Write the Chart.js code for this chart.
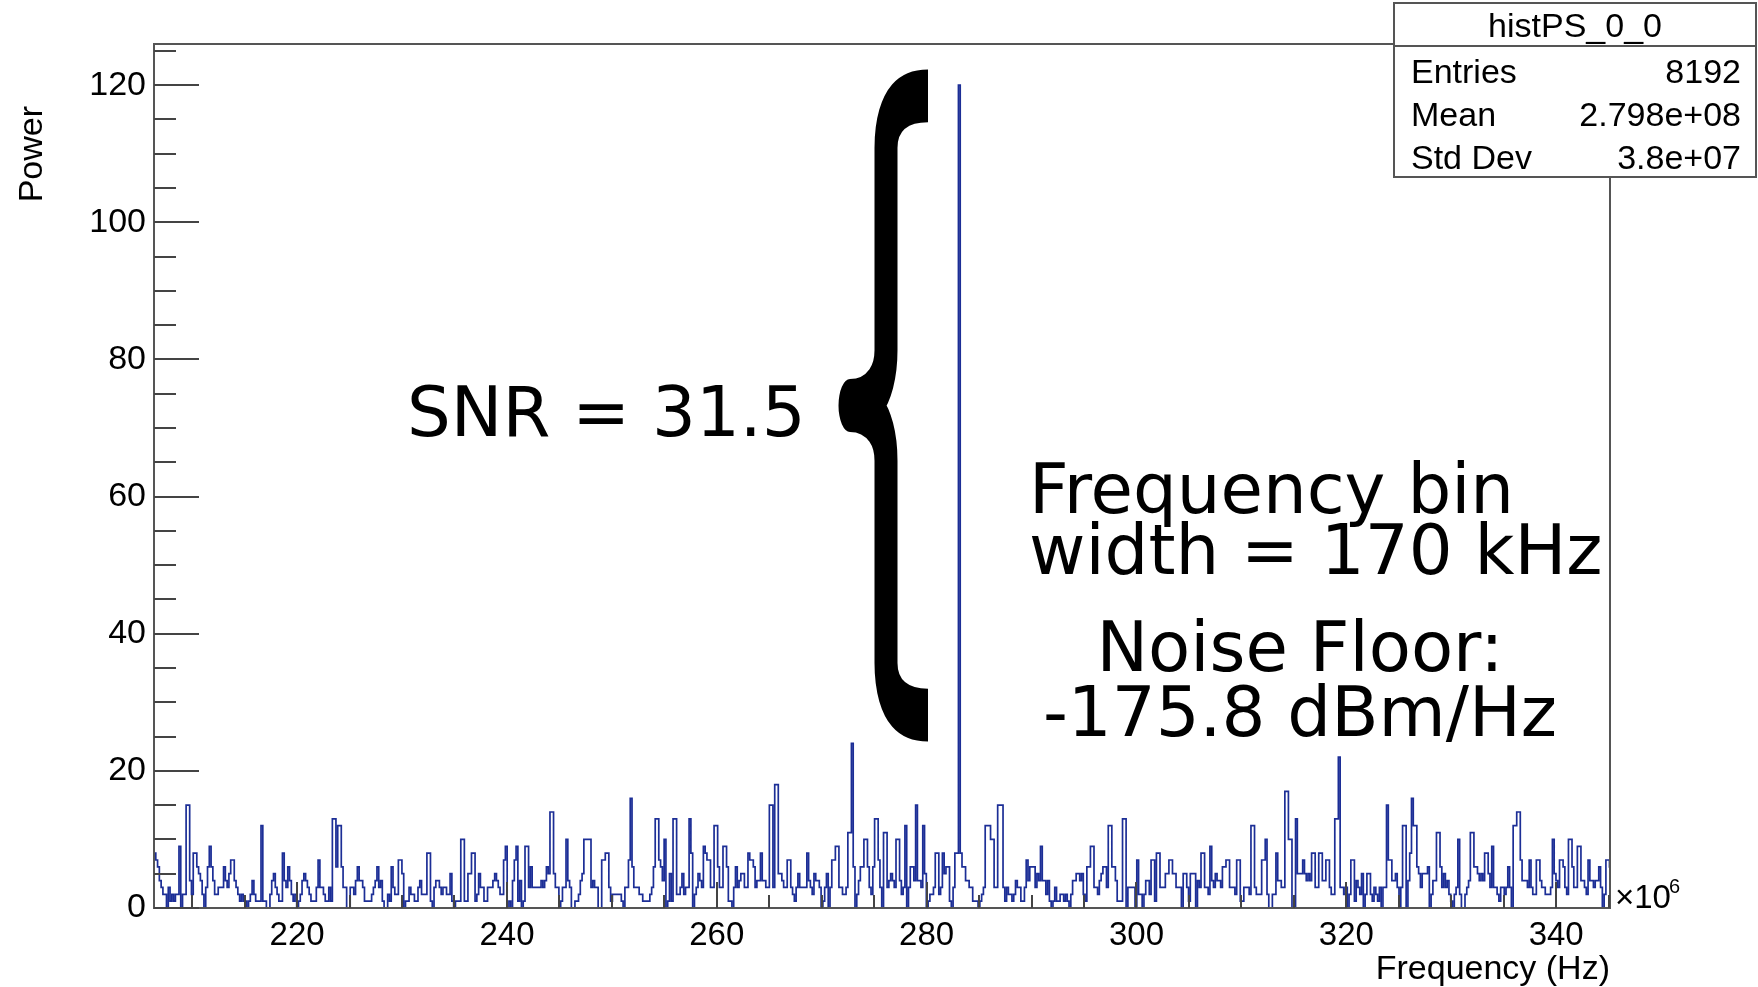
<!DOCTYPE html>
<html>
<head>
<meta charset="utf-8">
<title>histPS_0_0</title>
<script src="https://cdn.jsdelivr.net/npm/chart.js@4/dist/chart.umd.min.js"></script>
<style>
  html, body { margin: 0; padding: 0; background: #fff; }
  #c { display: block; }
</style>
</head>
<body>
<canvas id="c" width="1758" height="987"></canvas>
<script>
// Histogram binning (MHz): 170 kHz bins
const binStartMHz = 206.36;
const binWidthMHz = 0.17;

// Power per bin, left to right
const powerA = [ // ~206 - 229 MHz
  8,7,6,4,3,2,2,0,3,1, 2,1,2,2,9,0,2,2,15,15, 4,2,8,8,6,5,4,2,0,3,
  6,9,6,4,2,2,3,3,3,6, 4,3,5,7,7,4,3,2,1,2, 1,1,0,1,2,4,2,1,1,1,
  12,1,1,0,0,2,4,5,3,2, 1,1,8,4,3,6,4,2,1,2, 0,1,2,4,5,4,3,2,1,1,
  1,3,7,3,3,2,1,1,3,1, 13,13,6,12,12,6,3,3,0,0, 3,3,2,4,6,4,4,3,1,1,
  1,1,2,3,4,6,3,4,1,0, 0,2,1,6,3
];
const powerB = [ // ~229 - 252 MHz
  2,2,7,7,5,0,1,1,3,2, 2,1,1,3,4,2,2,2,8,8, 1,0,3,4,4,3,2,3,3,2,
  2,5,1,0,1,1,1,10,10,1, 1,5,5,8,8,1,2,5,3,3, 1,1,3,3,3,4,5,4,3,2,
  2,7,9,0,1,0,4,7,9,1, 4,0,1,9,9,3,6,3,3,3, 3,3,4,3,4,6,5,14,14,5,
  3,3,0,1,3,3,10,4,3,0, 0,1,1,2,4,5,10,10,10,10, 3,4,3,3,0,0,7,7,8,8,
  3,1,2,2,2,2,2,1,0,3, 3,7,16,6
];
const powerC = [ // ~252 - 275 MHz
  3,3,3,2,2,1,1,1,1,2, 3,6,13,13,7,6,4,10,0,1, 5,1,13,13,2,2,3,5,2,3,
  3,13,8,0,2,3,5,4,3,9, 8,7,7,3,3,12,12,6,3,3, 9,9,6,1,1,0,3,6,3,4,
  5,5,3,3,8,7,7,6,3,4, 4,8,4,4,3,3,15,15,3,18, 18,5,5,4,3,3,7,7,3,2,
  1,3,5,3,3,3,3,8,4,3, 2,5,4,4,3,0,1,3,5,0, 3,7,7,9,9,3,3,2,2,3,
  11,11,24,6,0,2,4,6,6,10, 10,6,3,2
];
const powerD = [ // ~275 - 298 MHz, carrier at ~283 MHz
  6,13,13,7,3,0,11,11,3,4, 5,4,3,10,10,4,2,3,12,0, 3,6,6,4,15,4,4,3,12,5,
  0,1,2,2,3,8,8,2,3,8, 5,6,6,1,0,3,8,8,120,8, 6,6,4,4,3,3,1,1,1,0,
  1,2,3,12,12,12,10,10,3,3, 15,15,15,3,1,3,2,2,1,2, 4,3,3,1,1,3,7,4,6,6,
  6,3,5,4,9,4,4,2,4,1, 0,1,3,1,1,2,2,1,2,1, 0,2,4,4,5,5,4,5,2,1,
  6,6,9,9,3,3,2,4,5,6, 6,3,12,12,6
];
const powerE = [ // ~298 - 321 MHz
  6,4,1,1,1,13,13,0,3,3, 3,3,0,7,2,2,0,2,4,4, 2,7,7,1,8,8,3,3,3,5,
  5,7,7,5,5,3,3,3,0,5, 5,3,1,5,5,5,0,4,3,8, 8,3,3,2,9,4,3,5,4,4,
  3,6,6,7,7,3,3,3,2,7, 7,1,1,3,3,3,2,12,12,3, 2,2,2,7,7,10,2,0,0,2,
  2,8,4,4,3,3,17,17,10,10, 0,0,13,5,5,5,7,5,4,5, 4,8,8,3,3,8,8,4,4,7,
  7,3,2,2,13,13,22,3,3,2, 3,0,2,7,7
];
const powerF = [ // ~321 - 345 MHz
  1,4,3,2,5,0,2,5,5,2, 1,3,2,1,3,0,3,3,15,7, 7,4,4,5,3,0,3,12,12,0,
  4,8,16,12,12,6,5,3,5,5, 5,6,0,2,4,4,11,11,6,3, 5,3,4,2,1,0,2,3,10,2,
  0,0,2,3,4,11,11,6,6,5, 4,5,4,8,8,5,3,9,3,3, 2,1,3,3,2,3,6,3,0,12,
  12,14,14,7,4,4,4,3,7,3, 2,2,7,7,4,3,3,2,2,2, 3,10,5,4,3,7,7,6,3,2,
  10,10,6,3,3,9,9,4,4,3, 2,7,4,4,3,4,4,6,3,0, 2,7,7,6
];

// Axes
const freqMinMHz = 206.36;
const freqMaxMHz = 345.13;
const powerMax = 126;
const freqTicks = [220, 240, 260, 280, 300, 320, 340];
const powerTicks = [0, 20, 40, 60, 80, 100, 120];

// Stats box
const statsTitle = 'histPS_0_0';
const statsRows = [['Entries', '8192'], ['Mean', '2.798e+08'], ['Std Dev', '3.8e+07']];

// Annotations on the picture
const snrText = 'SNR = 31.5';
const binText = ['Frequency bin', 'width = 170 kHz'];
const floorText = ['Noise Floor:', '-175.8 dBm/Hz'];

// build the step points (left edge of every bin + closing edge)
const power = [].concat(powerA, powerB, powerC, powerD, powerE, powerF);
const histPoints = power.map((v, i) => ({ x: binStartMHz + i * binWidthMHz, y: v }));
histPoints.push({ x: binStartMHz + power.length * binWidthMHz, y: power[power.length - 1] });

const axisFont = 'Liberation Sans, Arial, Helvetica, sans-serif';
const noteFont = 'DejaVu Sans, Verdana, sans-serif';

// frame, inside tick marks, titles, stats box and the notes
const histDecor = {
  id: 'histDecor',
  afterDatasetsDraw(chart) {
    const { ctx, chartArea: a, scales: { x, y } } = chart;
    ctx.save();
    ctx.strokeStyle = '#555';
    ctx.lineWidth = 2;
    ctx.strokeRect(a.left, a.top, a.right - a.left, a.bottom - a.top);

    ctx.lineWidth = 2;
    ctx.strokeStyle = '#444';
    ctx.beginPath();
    for (let v = 0; v <= powerMax; v += 5) {
      const py = Math.round(y.getPixelForValue(v));
      const len = v % 20 === 0 ? 45 : 22;
      ctx.moveTo(a.left, py);
      ctx.lineTo(a.left + len, py);
    }
    for (let v = 210; v <= freqMaxMHz; v += 5) {
      const px = Math.round(x.getPixelForValue(v));
      const len = v % 20 === 0 ? 26 : 13;
      ctx.moveTo(px, a.bottom);
      ctx.lineTo(px, a.bottom - len);
    }
    ctx.stroke();
    ctx.restore();
  },
  afterDraw(chart) {
    const { ctx, chartArea: a } = chart;
    ctx.save();
    ctx.fillStyle = '#000';

    // axis titles
    ctx.font = '34px ' + axisFont;
    ctx.textAlign = 'right';
    ctx.textBaseline = 'alphabetic';
    ctx.fillText('Frequency (Hz)', a.right, 979);
    ctx.save();
    ctx.translate(42, 106);
    ctx.rotate(-Math.PI / 2);
    ctx.textAlign = 'right';
    ctx.fillText('Power', 0, 0);
    ctx.restore();

    // x10^6 exponent
    ctx.textAlign = 'left';
    ctx.font = '33px ' + axisFont;
    ctx.fillText('\u00d710', a.right + 5, 908);
    ctx.font = '20px ' + axisFont;
    ctx.fillText('6', a.right + 59, 893);

    // stats box
    const bx = 1394, by = 3, bw = 362, bh = 174;
    ctx.fillStyle = '#fff';
    ctx.fillRect(bx, by, bw, bh);
    ctx.strokeStyle = '#555';
    ctx.lineWidth = 2;
    ctx.strokeRect(bx, by, bw, bh);
    ctx.beginPath();
    ctx.moveTo(bx, 46);
    ctx.lineTo(bx + bw, 46);
    ctx.stroke();
    ctx.fillStyle = '#000';
    ctx.font = '34px ' + axisFont;
    ctx.textAlign = 'center';
    ctx.fillText(statsTitle, bx + bw / 2, 37);
    statsRows.forEach((r, i) => {
      const base = 83 + i * 43;
      ctx.textAlign = 'left';
      ctx.fillText(r[0], 1411, base);
      ctx.textAlign = 'right';
      ctx.fillText(r[1], 1741, base);
    });

    // big left curly brace
    ctx.save();
    ctx.translate(0, 405.5);
    ctx.scale(1, 2.3);
    ctx.beginPath();
    ctx.moveTo(928, -134.6);
    ctx.bezierCurveTo(902, -134.6, 886, -128, 886, -112);
    ctx.lineTo(886, -24);
    ctx.bezierCurveTo(886, -8, 870, 0, 850, 0);
    ctx.bezierCurveTo(870, 0, 886, 8, 886, 24);
    ctx.lineTo(886, 112);
    ctx.bezierCurveTo(886, 128, 902, 134.6, 928, 134.6);
    ctx.lineWidth = 23;
    ctx.lineCap = 'butt';
    ctx.lineJoin = 'round';
    ctx.strokeStyle = '#000';
    ctx.stroke();
    ctx.restore();

    // notes
    ctx.font = '69px ' + noteFont;
    ctx.textAlign = 'left';
    ctx.fillText(snrText, 407, 436);
    ctx.fillText(binText[0], 1029, 513);
    ctx.fillText(binText[1], 1029, 574);
    ctx.textAlign = 'center';
    ctx.fillText(floorText[0], 1300, 671);
    ctx.fillText(floorText[1], 1300, 736);
    ctx.restore();
  }
};

new Chart(document.getElementById('c'), {
  type: 'line',
  data: {
    datasets: [{
      data: histPoints,
      stepped: 'before',
      borderColor: 'rgb(28, 46, 150)',
      borderWidth: 1.7,
      pointRadius: 0,
      fill: false
    }]
  },
  options: {
    responsive: false,
    animation: false,
    layout: { padding: { left: 0, top: 44, right: 148, bottom: 0 } },
    plugins: { legend: { display: false }, tooltip: { enabled: false } },
    scales: {
      x: {
        type: 'linear',
        min: freqMinMHz,
        max: freqMaxMHz,
        afterBuildTicks: s => { s.ticks = freqTicks.map(v => ({ value: v })); },
        afterFit: s => { s.height = 79; },
        grid: { display: false, drawTicks: false },
        border: { display: false },
        ticks: {
          padding: 8,
          maxRotation: 0,
          autoSkip: false,
          color: '#000',
          font: { family: axisFont, size: 33 }
        }
      },
      y: {
        type: 'linear',
        min: 0,
        max: powerMax,
        afterBuildTicks: s => { s.ticks = powerTicks.map(v => ({ value: v })); },
        afterFit: s => { s.width = 154; },
        grid: { display: false, drawTicks: false },
        border: { display: false },
        ticks: {
          padding: 8,
          autoSkip: false,
          color: '#000',
          font: { family: axisFont, size: 34 }
        }
      }
    }
  },
  plugins: [histDecor]
});
</script>
</body>
</html>
